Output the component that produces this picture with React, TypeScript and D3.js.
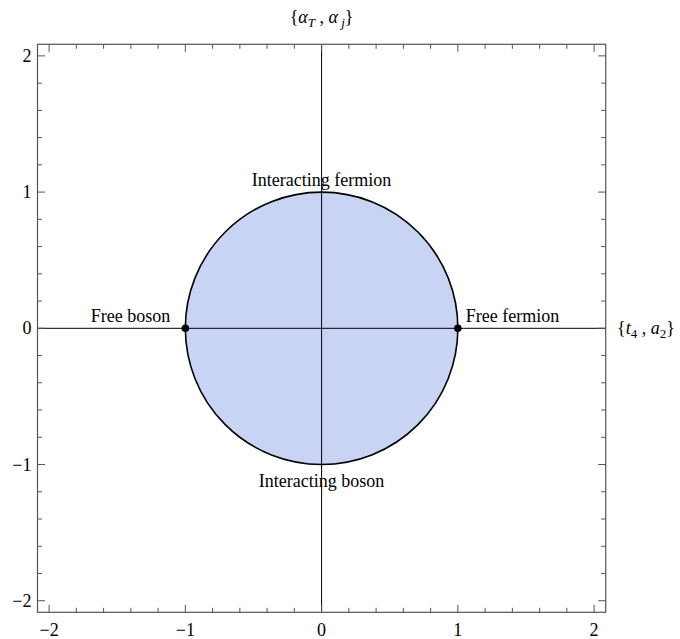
import React from 'react';
import * as d3 from 'd3';

const majorTicks = [-2, -1, 0, 1, 2];
const minorTicks = d3.range(-2, 2.001, 0.2).map((v) => Math.round(v * 10) / 10);
const regionRadius = [1];
const points = [
  { x: -1, y: 0 },
  { x: 1, y: 0 },
];
const labels = [
  { text: 'Interacting fermion', x: 0, y: 1, anchor: 'middle', dx: 0, dy: -6 },
  { text: 'Interacting boson', x: 0, y: -1, anchor: 'middle', dx: 0, dy: 22 },
  { text: 'Free boson', x: -1, y: 0, anchor: 'end', dx: -15, dy: -6 },
  { text: 'Free fermion', x: 1, y: 0, anchor: 'start', dx: 8, dy: -6 },
];

const W = 680;
const H = 639;
const dom = 2.085;

export default function App() {
  const x = d3.scaleLinear().domain([-dom, dom]).range([37.5, 605.7]);
  const y = d3.scaleLinear().domain([-dom, dom]).range([612.3, 44.3]);
  const font = '"Liberation Serif", "Times New Roman", serif';
  const frameColor = '#555';
  const [x0, x1] = x.range();
  const [y0, y1] = y.range();
  const fs = 18;

  return (
    <svg width={W} height={H} style={{ position: 'absolute', left: 0, top: 0 }} fontFamily={font}>
      <rect width={W} height={H} fill="#fff" />
      {/* region */}
      {regionRadius.map((r, i) => (
        <ellipse key={i} cx={x(0)} cy={y(0)} rx={x(r) - x(0)} ry={y(0) - y(r)}
          fill="#c9d3f4" stroke="none" />
      ))}
      {/* axes through origin */}
      <line x1={x0} x2={x1} y1={y(0)} y2={y(0)} stroke="#000" strokeWidth={1} />
      <line x1={x(0)} x2={x(0)} y1={y1} y2={y0} stroke="#000" strokeWidth={1} />
      {regionRadius.map((r, i) => (
        <ellipse key={i} cx={x(0)} cy={y(0)} rx={x(r) - x(0)} ry={y(0) - y(r)}
          fill="none" stroke="#000" strokeWidth={1.6} />
      ))}
      {/* frame */}
      <rect x={x0} y={y1} width={x1 - x0} height={y0 - y1} fill="none" stroke={frameColor} strokeWidth={1.2} />
      {/* ticks */}
      {minorTicks.map((t) => {
        const major = majorTicks.includes(t);
        const len = major ? 7.5 : 4.5;
        return (
          <g key={t} stroke={frameColor} strokeWidth={1}>
            <line x1={x(t)} x2={x(t)} y1={y0} y2={y0 - len} />
            <line x1={x(t)} x2={x(t)} y1={y1} y2={y1 + len} />
            <line x1={x0} x2={x0 + len} y1={y(t)} y2={y(t)} />
            <line x1={x1} x2={x1 - len} y1={y(t)} y2={y(t)} />
          </g>
        );
      })}
      {majorTicks.map((t) => (
        <text key={'x' + t} x={x(t)} y={y0 + 24} textAnchor="middle" fontSize={fs} fill="#000">
          {t < 0 ? '\u2212' + Math.abs(t) : t}
        </text>
      ))}
      {majorTicks.map((t) => (
        <text key={'y' + t} x={x0 - 6} y={y(t) + 6} textAnchor="end" fontSize={fs} fill="#000">
          {t < 0 ? '\u2212' + Math.abs(t) : t}
        </text>
      ))}
      {/* points */}
      {points.map((p, i) => (
        <circle key={i} cx={x(p.x)} cy={y(p.y)} r={3.8} fill="#000" />
      ))}
      {/* annotations */}
      {labels.map((l, i) => (
        <text key={i} x={x(l.x) + l.dx} y={y(l.y) + l.dy} textAnchor={l.anchor as any} fontSize={fs} fill="#000">
          {l.text}
        </text>
      ))}
      {/* axis labels */}
      <text x={x(0)} y={23} textAnchor="middle" fontSize={fs} fill="#000">
        {'{'}<tspan fontStyle="italic">α</tspan><tspan fontStyle="italic" fontSize={13} dy={4}>T</tspan>
        <tspan dy={-4}> , </tspan><tspan fontStyle="italic">α</tspan>
        <tspan fontStyle="italic" fontSize={13} dy={4}> j</tspan><tspan dy={-4}>{'}'}</tspan>
      </text>
      <text x={617} y={334} textAnchor="start" fontSize={fs} fill="#000">
        {'{'}<tspan fontStyle="italic">t</tspan><tspan fontSize={13} dy={4}>4</tspan>
        <tspan dy={-4}> , </tspan><tspan fontStyle="italic">a</tspan>
        <tspan fontSize={13} dy={4}>2</tspan><tspan dy={-4}>{'}'}</tspan>
      </text>
    </svg>
  );
}
